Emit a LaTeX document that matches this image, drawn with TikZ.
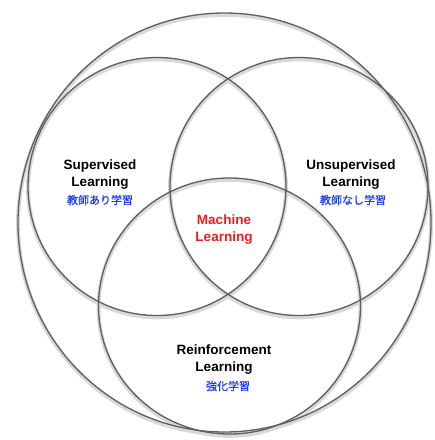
\documentclass[tikz,border=0pt]{standalone}
\usepackage{fontspec}
\setmainfont{Liberation Sans}
\newfontfamily\cjk[FakeBold=0.9]{Noto Sans CJK JP}
\definecolor{jblue}{RGB}{30,60,245}
\definecolor{mlred}{RGB}{235,30,30}
\definecolor{ringgray}{RGB}{95,95,95}
\begin{document}
\begin{tikzpicture}[x=1pt,y=-1pt,
  ringshadow/.style={draw=black!15,line width=4pt},
  ring/.style={draw=ringgray,line width=1.3pt},
  entxt/.style={font=\fontsize{13.5}{17}\selectfont\bfseries,align=center,inner sep=0pt},
  jptxt/.style={font=\fontsize{11}{12}\selectfont\cjk,text=jblue,inner sep=0pt}]
\useasboundingbox[fill=white] (0,0) rectangle (435,440);
% shadows
\begin{scope}[yshift=-1.8pt]
\draw[ringshadow] (224.5,222.5) ellipse [x radius=206.5,y radius=209.5];
\draw[ringshadow] (157,186.5) circle [radius=129];
\draw[ringshadow] (299,186.5) circle [radius=129];
\draw[ringshadow] (229.5,306) ellipse [x radius=131,y radius=128];
\end{scope}
% rings
\draw[ring] (224.5,222.5) ellipse [x radius=206.5,y radius=209.5];
\draw[ring] (157,186.5) circle [radius=129];
\draw[ring] (299,186.5) circle [radius=129];
\draw[ring] (229.5,306) ellipse [x radius=131,y radius=128];
% texts
\node[entxt] (sup) at (100,174.5) {Supervised\\Learning};
\node[jptxt] (supj) at (100,200) {教師あり学習};
\node[entxt] (uns) at (351,174.5) {Unsupervised\\Learning};
\node[jptxt] (unsj) at (353,200) {教師なし学習};
\node[entxt,text=mlred] (ml) at (224,229.5) {Machine\\Learning};
\node[entxt] (rl) at (224,359.5) {Reinforcement\\Learning};
\node[jptxt] (rlj) at (228,386) {強化学習};
\end{tikzpicture}
\end{document}
